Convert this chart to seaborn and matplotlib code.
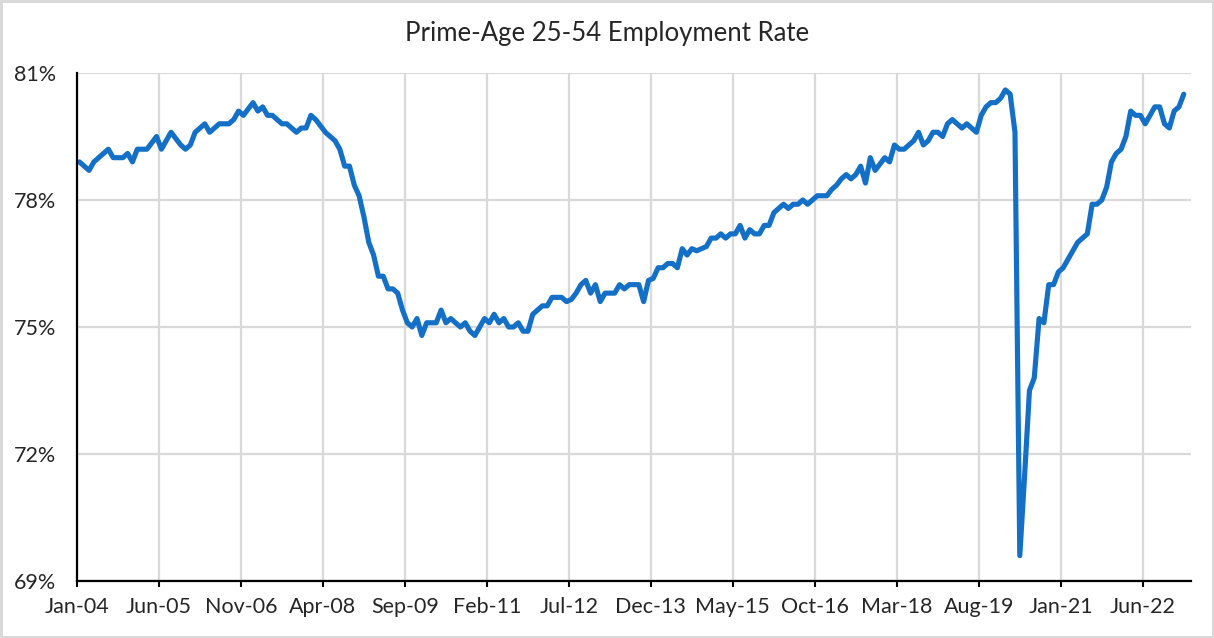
import matplotlib
matplotlib.use("Agg")
import matplotlib.pyplot as plt
import numpy as np
import pandas as pd
import seaborn as sns
from matplotlib.ticker import FuncFormatter

# monthly prime-age (25-54) employment rate, Jan 2004 onward
rate_2004_2007 = [
    78.9, 78.8, 78.7, 78.9, 79.0, 79.1, 79.2, 79.0, 79.0, 79.0, 79.1, 78.9,
    79.2, 79.2, 79.2, 79.35, 79.5, 79.2, 79.4, 79.6, 79.45, 79.3, 79.2, 79.3,
    79.6, 79.7, 79.8, 79.6, 79.7, 79.8, 79.8, 79.8, 79.9, 80.1, 80.0, 80.15,
    80.3, 80.1, 80.2, 80.0, 80.0, 79.9, 79.8, 79.8, 79.7, 79.6, 79.7, 79.7,
]
rate_2008_2011 = [
    80.0, 79.9, 79.75, 79.6, 79.5, 79.4, 79.2, 78.8, 78.8, 78.35, 78.1, 77.6,
    77.0, 76.7, 76.2, 76.2, 75.9, 75.9, 75.8, 75.4, 75.1, 75.0, 75.2, 74.8,
    75.1, 75.1, 75.1, 75.4, 75.1, 75.2, 75.1, 75.0, 75.1, 74.9, 74.8, 75.0,
    75.2, 75.1, 75.3, 75.1, 75.2, 75.0, 75.0, 75.1, 74.9, 74.9, 75.3, 75.4,
]
rate_2012_2015 = [
    75.5, 75.5, 75.7, 75.7, 75.7, 75.6, 75.65, 75.8, 76.0, 76.1, 75.8, 76.0,
    75.6, 75.8, 75.8, 75.8, 76.0, 75.9, 76.0, 76.0, 76.0, 75.6, 76.1, 76.15,
    76.4, 76.4, 76.5, 76.5, 76.4, 76.85, 76.7, 76.85, 76.8, 76.85, 76.9, 77.1,
    77.1, 77.2, 77.1, 77.2, 77.2, 77.4, 77.1, 77.3, 77.2, 77.2, 77.4, 77.4,
]
rate_2016_2019 = [
    77.7, 77.8, 77.9, 77.8, 77.9, 77.9, 78.0, 77.9, 78.0, 78.1, 78.1, 78.1,
    78.25, 78.35, 78.5, 78.6, 78.5, 78.6, 78.8, 78.4, 79.0, 78.7, 78.85, 79.0,
    78.9, 79.3, 79.2, 79.2, 79.3, 79.4, 79.6, 79.3, 79.4, 79.6, 79.6, 79.5,
    79.8, 79.9, 79.8, 79.7, 79.8, 79.7, 79.6, 80.0, 80.2, 80.3, 80.3, 80.4,
]
rate_2020_2023 = [
    80.6, 80.5, 79.6, 69.6, 71.5, 73.5, 73.8, 75.2, 75.1, 76.0, 76.0, 76.3,
    76.4, 76.6, 76.8, 77.0, 77.1, 77.2, 77.9, 77.9, 78.0, 78.3, 78.9, 79.1,
    79.2, 79.5, 80.1, 80.0, 80.0, 79.8, 80.0, 80.2, 80.2, 79.8, 79.7, 80.1,
    80.2, 80.5,
]
tick_labels = ["Jan-04", "Jun-05", "Nov-06", "Apr-08", "Sep-09", "Feb-11", "Jul-12",
               "Dec-13", "May-15", "Oct-16", "Mar-18", "Aug-19", "Jan-21", "Jun-22"]
y_ticks = [69, 72, 75, 78, 81]

rate = rate_2004_2007 + rate_2008_2011 + rate_2012_2015 + rate_2016_2019 + rate_2020_2023
df = pd.DataFrame({"month": np.arange(len(rate)) + 0.5, "rate": rate})

sns.set_style("white")
plt.rcParams["font.family"] = ["Lato", "DejaVu Sans"]

fig = plt.figure(figsize=(12.14, 6.38), dpi=100)
fig.patch.set_edgecolor("#d9d9d9")
fig.patch.set_linewidth(2.5)
ax = fig.add_axes([77 / 1214, 1 - 581 / 638, (1191 - 77) / 1214, (581 - 73) / 638])

sns.lineplot(data=df, x="month", y="rate", ax=ax, color="#1370c6", linewidth=3.7,
             solid_capstyle="round", solid_joinstyle="round")

ax.set_xlim(0, len(rate) + 1)
ax.set_ylim(69, 81)
ax.set_xticks(np.arange(len(tick_labels)) * 17)
ax.set_xticklabels(tick_labels)
ax.set_yticks(y_ticks)
ax.yaxis.set_major_formatter(FuncFormatter(lambda v, _: f"{v:.0f}%"))

ax.grid(True, color="#d9d9d9", linewidth=1.6)
ax.set_axisbelow(True)
for side in ["top", "right"]:
    ax.spines[side].set_visible(False)
for side in ["left", "bottom"]:
    ax.spines[side].set_color("black")
    ax.spines[side].set_linewidth(1.6)

ax.tick_params(axis="x", direction="out", length=4.5, width=1.5, color="black",
               labelsize=15.5, pad=7, bottom=True)
ax.tick_params(axis="y", length=0, labelsize=15.5, pad=15)
ax.set_xlabel("")
ax.set_ylabel("")

fig.text(0.5, 1 - 33 / 638, "Prime-Age 25-54 Employment Rate", ha="center", va="center",
         fontsize=18.5)

fig.savefig("out.png", dpi=100)
